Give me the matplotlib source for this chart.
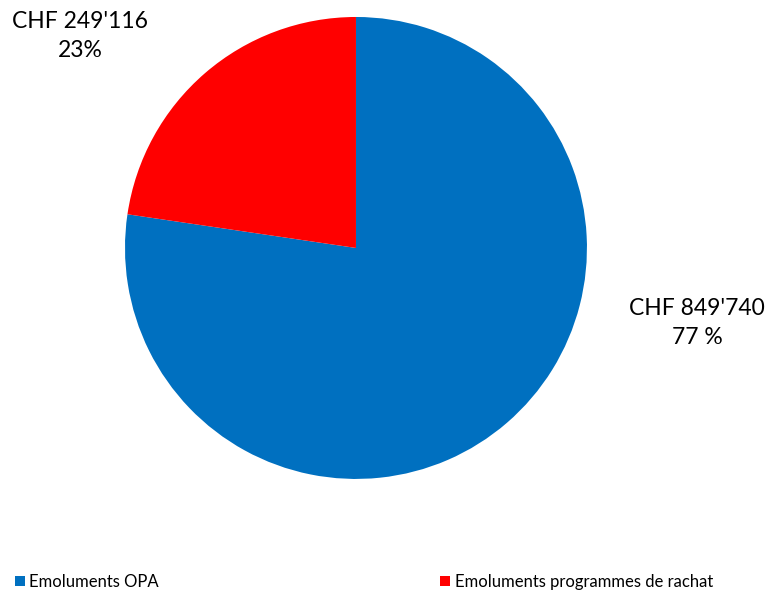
import matplotlib.pyplot as plt

# Data
labels = ["Emoluments OPA", "Emoluments programmes de rachat"]
amounts = [849740, 249116]
amount_labels = ["CHF 849'740\n77 %", "CHF 249'116\n23%"]
colors = ["#0070C0", "#FF0000"]

plt.rcParams['font.family'] = ['Lato', 'DejaVu Sans']

fig = plt.figure(figsize=(7.72, 5.95), dpi=100)
ax = fig.add_axes([0.1619, 0.1950, 0.5984, 0.7765])

wedges, _ = ax.pie(amounts, colors=colors, startangle=90, counterclock=False,
                   radius=1, wedgeprops=dict(linewidth=0))
ax.set_xlim(-1, 1)
ax.set_ylim(-1, 1)
ax.set_aspect('equal')
ax.axis('off')

# Data labels
ax.text(1.476, -0.325, amount_labels[0], ha='center', va='center',
        fontsize=16.5, linespacing=1.5, clip_on=False)
ax.text(-1.195, 0.918, amount_labels[1], ha='center', va='center',
        fontsize=16.5, linespacing=1.5, clip_on=False)

# Legend
fig.legend(wedges, labels, loc='center left', bbox_to_anchor=(15 / 772, 13 / 595),
           ncol=2, frameon=False, fontsize=12, handlelength=0.6,
           handleheight=0.6, handletextpad=0.25, columnspacing=16.9,
           borderpad=0, borderaxespad=0)

plt.savefig('out.png', dpi=100)
